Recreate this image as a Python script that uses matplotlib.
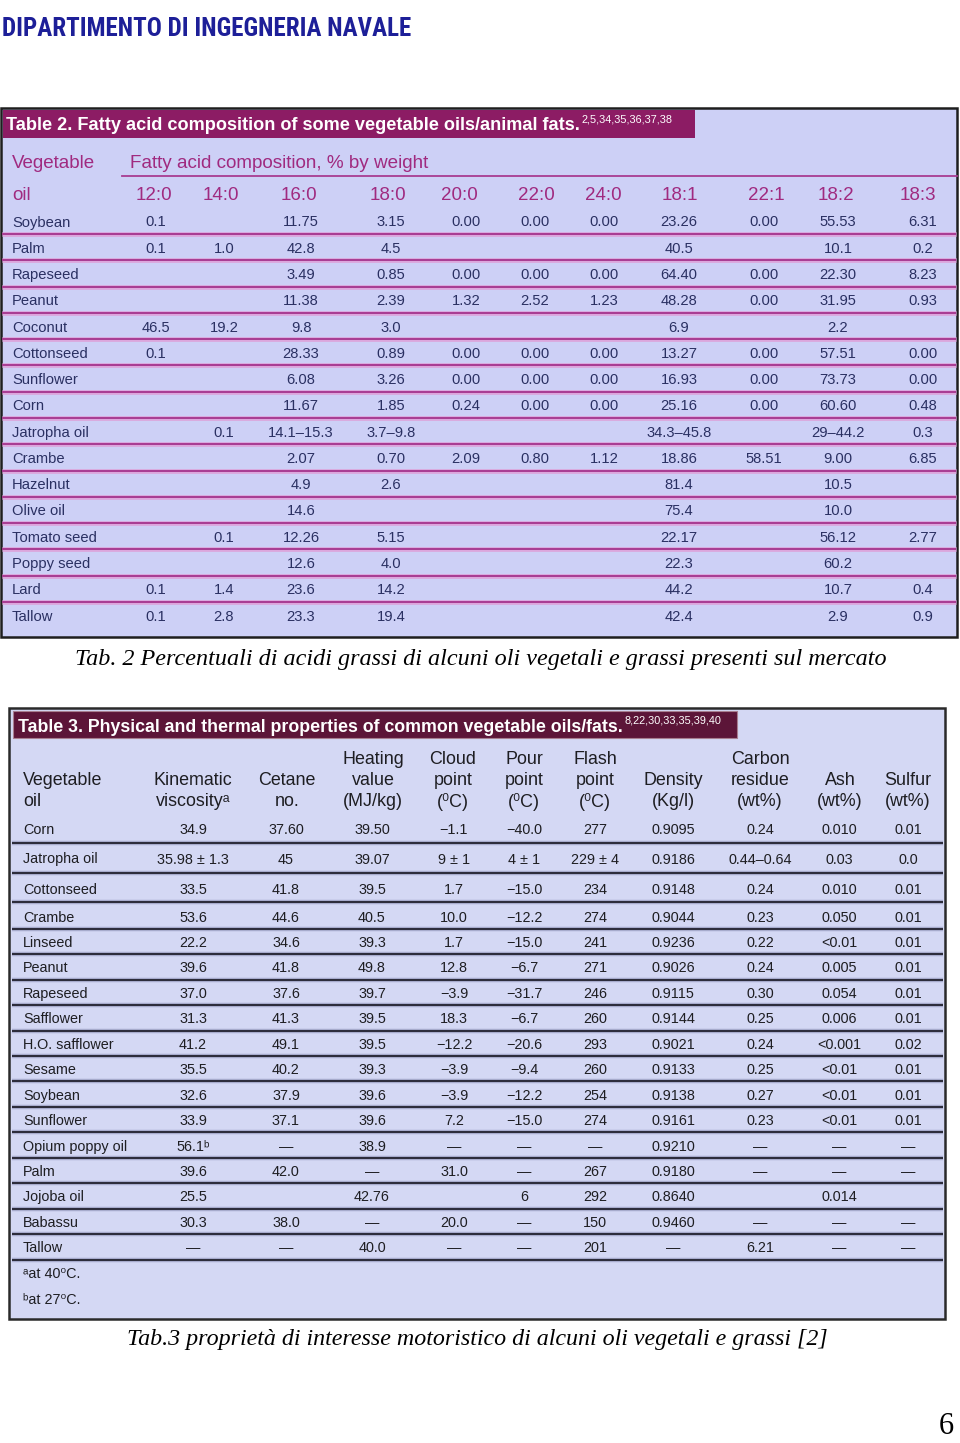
import matplotlib
matplotlib.use("Agg")
import matplotlib.pyplot as plt
from matplotlib import font_manager as fm
from matplotlib.patches import Rectangle

# ---------------- Table 2 data ----------------
t2_oils = ["Soybean", "Palm", "Rapeseed", "Peanut", "Coconut", "Cottonseed", "Sunflower",
           "Corn", "Jatropha oil", "Crambe", "Hazelnut", "Olive oil", "Tomato seed",
           "Poppy seed", "Lard", "Tallow"]
t2_acids = ["12:0", "14:0", "16:0", "18:0", "20:0", "22:0", "24:0", "18:1", "22:1", "18:2", "18:3"]
fa_12_0 = ["0.1", "0.1", "", "", "46.5", "0.1", "", "", "", "", "", "", "", "", "0.1", "0.1"]
fa_14_0 = ["", "1.0", "", "", "19.2", "", "", "", "0.1", "", "", "", "0.1", "", "1.4", "2.8"]
fa_16_0 = ["11.75", "42.8", "3.49", "11.38", "9.8", "28.33", "6.08", "11.67", "14.1–15.3",
           "2.07", "4.9", "14.6", "12.26", "12.6", "23.6", "23.3"]
fa_18_0 = ["3.15", "4.5", "0.85", "2.39", "3.0", "0.89", "3.26", "1.85", "3.7–9.8",
           "0.70", "2.6", "", "5.15", "4.0", "14.2", "19.4"]
fa_20_0 = ["0.00", "", "0.00", "1.32", "", "0.00", "0.00", "0.24", "", "2.09", "", "", "", "", "", ""]
fa_22_0 = ["0.00", "", "0.00", "2.52", "", "0.00", "0.00", "0.00", "", "0.80", "", "", "", "", "", ""]
fa_24_0 = ["0.00", "", "0.00", "1.23", "", "0.00", "0.00", "0.00", "", "1.12", "", "", "", "", "", ""]
fa_18_1 = ["23.26", "40.5", "64.40", "48.28", "6.9", "13.27", "16.93", "25.16", "34.3–45.8",
           "18.86", "81.4", "75.4", "22.17", "22.3", "44.2", "42.4"]
fa_22_1 = ["0.00", "", "0.00", "0.00", "", "0.00", "0.00", "0.00", "", "58.51", "", "", "", "", "", ""]
fa_18_2 = ["55.53", "10.1", "22.30", "31.95", "2.2", "57.51", "73.73", "60.60", "29–44.2",
           "9.00", "10.5", "10.0", "56.12", "60.2", "10.7", "2.9"]
fa_18_3 = ["6.31", "0.2", "8.23", "0.93", "", "0.00", "0.00", "0.48", "0.3", "6.85", "", "",
           "2.77", "", "0.4", "0.9"]
t2_columns = [fa_12_0, fa_14_0, fa_16_0, fa_18_0, fa_20_0, fa_22_0, fa_24_0,
              fa_18_1, fa_22_1, fa_18_2, fa_18_3]

# ---------------- Table 3 data ----------------
t3_oils = ["Corn", "Jatropha oil", "Cottonseed", "Crambe", "Linseed", "Peanut", "Rapeseed",
           "Safflower", "H.O. safflower", "Sesame", "Soybean", "Sunflower", "Opium poppy oil",
           "Palm", "Jojoba oil", "Babassu", "Tallow"]
t3_headers = [["Kinematic", "viscosityᵃ"], ["Cetane", "no."], ["Heating", "value", "(MJ/kg)"],
              ["Cloud", "point", "(⁰C)"], ["Pour", "point", "(⁰C)"], ["Flash", "point", "(⁰C)"],
              ["Density", "(Kg/l)"], ["Carbon", "residue", "(wt%)"], ["Ash", "(wt%)"],
              ["Sulfur", "(wt%)"]]
kin_visc = ["34.9", "35.98 ± 1.3", "33.5", "53.6", "22.2", "39.6", "37.0", "31.3", "41.2",
            "35.5", "32.6", "33.9", "56.1ᵇ", "39.6", "25.5", "30.3", "—"]
cetane = ["37.60", "45", "41.8", "44.6", "34.6", "41.8", "37.6", "41.3", "49.1", "40.2",
          "37.9", "37.1", "—", "42.0", "", "38.0", "—"]
heating = ["39.50", "39.07", "39.5", "40.5", "39.3", "49.8", "39.7", "39.5", "39.5", "39.3",
           "39.6", "39.6", "38.9", "—", "42.76", "—", "40.0"]
cloud = ["−1.1", "9 ± 1", "1.7", "10.0", "1.7", "12.8", "−3.9", "18.3", "−12.2", "−3.9",
         "−3.9", "7.2", "—", "31.0", "", "20.0", "—"]
pour = ["−40.0", "4 ± 1", "−15.0", "−12.2", "−15.0", "−6.7", "−31.7", "−6.7", "−20.6",
        "−9.4", "−12.2", "−15.0", "—", "—", "6", "—", "—"]
flash = ["277", "229 ± 4", "234", "274", "241", "271", "246", "260", "293", "260", "254",
         "274", "—", "267", "292", "150", "201"]
density = ["0.9095", "0.9186", "0.9148", "0.9044", "0.9236", "0.9026", "0.9115", "0.9144",
           "0.9021", "0.9133", "0.9138", "0.9161", "0.9210", "0.9180", "0.8640", "0.9460", "—"]
carbon = ["0.24", "0.44–0.64", "0.24", "0.23", "0.22", "0.24", "0.30", "0.25", "0.24", "0.25",
          "0.27", "0.23", "—", "—", "", "—", "6.21"]
ash = ["0.010", "0.03", "0.010", "0.050", "<0.01", "0.005", "0.054", "0.006", "<0.001",
       "<0.01", "<0.01", "<0.01", "—", "—", "0.014", "—", "—"]
sulfur = ["0.01", "0.0", "0.01", "0.01", "0.01", "0.01", "0.01", "0.01", "0.02", "0.01",
          "0.01", "0.01", "—", "—", "", "—", "—"]
t3_columns = [kin_visc, cetane, heating, cloud, pour, flash, density, carbon, ash, sulfur]
t3_notes = ["ᵃat 40⁰C.", "ᵇat 27⁰C."]

page_header = "DIPARTIMENTO DI INGEGNERIA NAVALE"
t2_title = "Table 2. Fatty acid composition of some vegetable oils/animal fats."
t2_refs = "2,5,34,35,36,37,38"
t3_title = "Table 3. Physical and thermal properties of common vegetable oils/fats."
t3_refs = "8,22,30,33,35,39,40"
caption2 = "Tab. 2 Percentuali di acidi grassi di alcuni oli vegetali e grassi presenti sul mercato"
caption3 = "Tab.3 proprietà di interesse motoristico di alcuni oli vegetali e grassi [2]"
page_no = "6"

# ---------------- fonts / styles ----------------
names = {f.name for f in fm.fontManager.ttflist}
SANS = ["Liberation Sans", "DejaVu Sans"]
SERIF = ["Liberation Serif", "DejaVu Serif"]
narrow = [n for n in ["Liberation Sans Narrow", "DejaVu Sans Condensed", "Roboto Condensed"]
          if n in names]
HEAD = narrow[:1] + ["DejaVu Sans"]

fig = plt.figure(figsize=(9.6, 14.43), dpi=100)
fig.patch.set_facecolor("white")
ax = fig.add_axes([0, 0, 1, 1])
ax.set_xlim(0, 960)
ax.set_ylim(1443, 0)
ax.axis("off")
renderer = fig.canvas.get_renderer()


def fit_width(t, w):
    bb = t.get_window_extent(renderer)
    t.set_fontsize(t.get_fontsize() * w / bb.width)
    return t


# ---------------- page header ----------------
h = ax.text(2, 27, page_header, family=HEAD, fontweight="bold", fontstretch="condensed",
            color="#1d1f98", fontsize=30, ha="left", va="center_baseline")
fit_width(h, 408)

# ---------------- Table 2 ----------------
T2_BG, T2_BAR, T2_HEAD, T2_TXT, T2_LINE = "#cdd0f6", "#8c1c64", "#a02a80", "#2a3062", "#a83c92"
ax.add_patch(Rectangle((1, 108), 956, 529, facecolor=T2_BG, edgecolor="#1e1e1e", lw=1.8, zorder=1))
ax.add_patch(Rectangle((2.5, 109.5), 692, 28.5, facecolor=T2_BAR, edgecolor="none", zorder=2))
tt = ax.text(6, 124, t2_title, family=SANS, fontweight="bold", color="white", fontsize=12,
             ha="left", va="center_baseline", zorder=3)
fit_width(tt, 572)
ax.annotate(t2_refs, xy=(1.0, 1.0), xycoords=tt, xytext=(1, 2), textcoords="offset points",
            ha="left", va="top", color="white", family=SANS, fontsize=7.8, zorder=3)

hfs = 13.5
ax.text(12, 162, "Vegetable", family=SANS, color=T2_HEAD, fontsize=hfs, ha="left", va="center_baseline")
hf = ax.text(130, 162, "Fatty acid composition, % by weight", family=SANS, color=T2_HEAD,
             fontsize=hfs, ha="left", va="center_baseline")
fit_width(hf, 300)
ax.plot([122, 957], [176, 176], color=T2_LINE, lw=1.3, zorder=2)
ax.text(12, 193, "oil", family=SANS, color=T2_HEAD, fontsize=hfs, ha="left", va="center_baseline")

t2_head_x = [154, 221, 299, 388, 459, 536, 603, 680, 766, 836, 918]
t2_col_x = [156, 224, 301, 391, 466, 535, 604, 679, 764, 838, 923]
for lab, x in zip(t2_acids, t2_head_x):
    ax.text(x, 193, lab, family=SANS, color=T2_HEAD, fontsize=hfs, ha="center", va="center_baseline")

t2_y0, t2_pitch = 221, 26.27
t2_rows_y = [t2_y0 + i * t2_pitch for i in range(len(t2_oils))]
dfs = 10.6
for i, (oil, y) in enumerate(zip(t2_oils, t2_rows_y)):
    ax.text(12, y, oil, family=SANS, color=T2_TXT, fontsize=dfs, ha="left", va="center_baseline", zorder=3)
    for col, x in zip(t2_columns, t2_col_x):
        if col[i]:
            ax.text(x, y, col[i], family=SANS, color=T2_TXT, fontsize=dfs, ha="center",
                    va="center_baseline", zorder=3)
    if i < len(t2_oils) - 1:
        ly = y + t2_pitch / 2
        ax.plot([2, 956], [ly, ly], color="#dca6dc", lw=3.4, solid_capstyle="butt", zorder=2)
        ax.plot([2, 956], [ly, ly], color=T2_LINE, lw=1.4, solid_capstyle="butt", zorder=2)

c2 = ax.text(481, 657, caption2, family=SERIF, style="italic", color="black", fontsize=16,
             ha="center", va="center_baseline")
fit_width(c2, 812)

# ---------------- Table 3 ----------------
T3_BG, T3_BAR, T3_TXT, T3_LINE = "#d4d8f4", "#5c1538", "#1e1e22", "#2a2a38"
ax.add_patch(Rectangle((9, 708), 936, 611, facecolor=T3_BG, edgecolor="#2a2a2a", lw=1.8, zorder=1))
ax.add_patch(Rectangle((12.5, 711), 724, 27, facecolor=T3_BAR, edgecolor="#a77f90", lw=0.8, zorder=2))
t3 = ax.text(18, 725, t3_title, family=SANS, fontweight="bold", color="white", fontsize=12,
             ha="left", va="center_baseline", zorder=3)
fit_width(t3, 599)
ax.annotate(t3_refs, xy=(1.0, 1.0), xycoords=t3, xytext=(1, 2), textcoords="offset points",
            ha="left", va="top", color="white", family=SANS, fontsize=7.8, zorder=3)

h3fs = 12.9
h3_bottom, h3_step = 800, 21.5
ax.text(23, h3_bottom - h3_step, "Vegetable", family=SANS, color=T3_TXT, fontsize=h3fs,
        ha="left", va="center_baseline")
ax.text(23, h3_bottom, "oil", family=SANS, color=T3_TXT, fontsize=h3fs, ha="left", va="center_baseline")
t3_head_x = [193, 287, 373, 453, 524, 595, 673, 760, 840, 908]
t3_col_x = [193, 286, 372, 454, 524, 595, 673, 760, 839, 908]
for lines, x in zip(t3_headers, t3_head_x):
    for k, line in enumerate(reversed(lines)):
        ax.text(x, h3_bottom - k * h3_step, line, family=SANS, color=T3_TXT, fontsize=h3fs,
                ha="center", va="center_baseline")

t3_gaps = [30, 30, 28] + [25.45] * (len(t3_oils) - 4)
t3_rows_y = [828]
for g in t3_gaps:
    t3_rows_y.append(t3_rows_y[-1] + g)
d3fs = 10.4
for i, (oil, y) in enumerate(zip(t3_oils, t3_rows_y)):
    ax.text(23, y, oil, family=SANS, color=T3_TXT, fontsize=d3fs, ha="left", va="center_baseline", zorder=3)
    for col, x in zip(t3_columns, t3_col_x):
        if col[i]:
            ax.text(x, y, col[i], family=SANS, color=T3_TXT, fontsize=d3fs, ha="center",
                    va="center_baseline", zorder=3)
    ly = (y + t3_rows_y[i + 1]) / 2 if i < len(t3_oils) - 1 else y + 13
    ax.plot([12, 943], [ly, ly], color="#a7abcc", lw=3.2, solid_capstyle="butt", zorder=2)
    ax.plot([12, 943], [ly, ly], color=T3_LINE, lw=1.4, solid_capstyle="butt", zorder=2)

for k, note in enumerate(t3_notes):
    ax.text(23, t3_rows_y[-1] + 26 + k * 26, note, family=SANS, color=T3_TXT, fontsize=d3fs,
            ha="left", va="center_baseline")

c3 = ax.text(477, 1337, caption3, family=SERIF, style="italic", color="black", fontsize=16,
             ha="center", va="center_baseline")
fit_width(c3, 702)

ax.text(946, 1441, page_no, family=SERIF, color="black", fontsize=22, ha="center", va="bottom")

fig.savefig("out.png", dpi=100, facecolor="white")
